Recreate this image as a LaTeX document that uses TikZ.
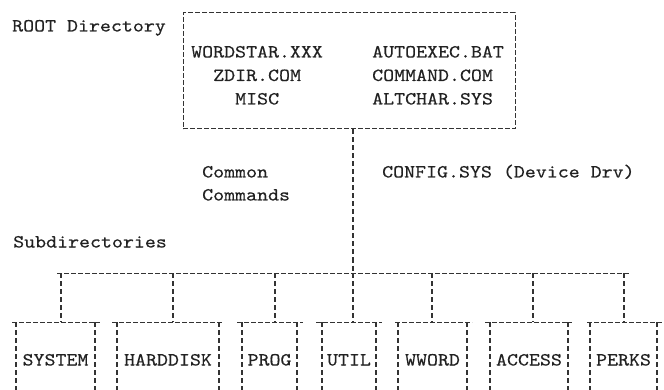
\documentclass[tikz,border=0pt]{standalone}
\usepackage{fontspec}
\setmonofont[FakeStretch=1.13,FakeBold=0.4]{lmmono10-regular.otf}
\definecolor{ink}{HTML}{222222}
\definecolor{linec}{HTML}{333333}
\begin{document}
\begin{tikzpicture}[x=1pt,y=-1pt,
  txt/.style={font=\fontsize{18.5}{22}\selectfont\ttfamily, inner sep=0pt, anchor=base west, text=ink},
  hdash/.style={draw=linec, line width=1pt, dash pattern=on 5pt off 2pt},
  vdash/.style={draw=linec, line width=1.1pt, dash pattern=on 5pt off 3pt},
  rootbox/.style={hdash, minimum width=332pt, minimum height=116pt, inner sep=0pt}]
\useasboundingbox (0,0) rectangle (664,390);
% root box
\node[rootbox] (root) at (349,71) {};
\node[txt] (rootlbl) at (12,31.5) {ROOT Directory};
\node[txt] (f1) at (191,57.5) {WORDSTAR.XXX};
\node[txt] (f2) at (213,81) {ZDIR.COM};
\node[txt] (f3) at (235,104.5) {MISC};
\node[txt] (f4) at (372,57.5) {AUTOEXEC.BAT};
\node[txt] (f5) at (372,81) {COMMAND.COM};
\node[txt] (f6) at (372,104.5) {ALTCHAR.SYS};
% middle labels
\node[txt] (cc1) at (202,177.5) {Common};
\node[txt] (cc2) at (202,200.5) {Commands};
\node[txt] (cfg) at (382,177.5) {CONFIG.SYS (Device Drv)};
\node[txt] (sub) at (13,247.5) {Subdirectories};
% bus
\coordinate (bus) at (353,273);
\coordinate (busL) at (57,273);
\coordinate (busR) at (630,273);
\draw[vdash] (root.south -| bus) -- (bus);
\draw[hdash] (busL) -- (busR);
% subdirectory boxes
\foreach \n/\sl/\sr/\vl/\vr/\d/\lab in {
  sys/12/100/16/95/61/SYSTEM,
  hd/112/223/117/219/173/HARDDISK,
  prog/237/303/242/297/275/PROG,
  util/316/382/322/376/353/UTIL,
  ww/395/472/398/467/432/WWORD,
  acc/485/572/490/568/533/ACCESS,
  perks/587/664/590/657/624/PERKS}{
  \node[txt, anchor=base] (\n) at ({(\vl+\vr)/2},365.5) {\lab};
  \coordinate (\n top) at (\d,322);
  \coordinate (\n drop) at (\d,273);
  \draw[hdash] (\sl,322) -- (\sr,322);
  \draw[vdash] (\vl,322) -- (\vl,390);
  \draw[vdash] (\vr,322) -- (\vr,390);
  \draw[vdash] (\n drop) -- (\n top);
}
\end{tikzpicture}
\end{document}
